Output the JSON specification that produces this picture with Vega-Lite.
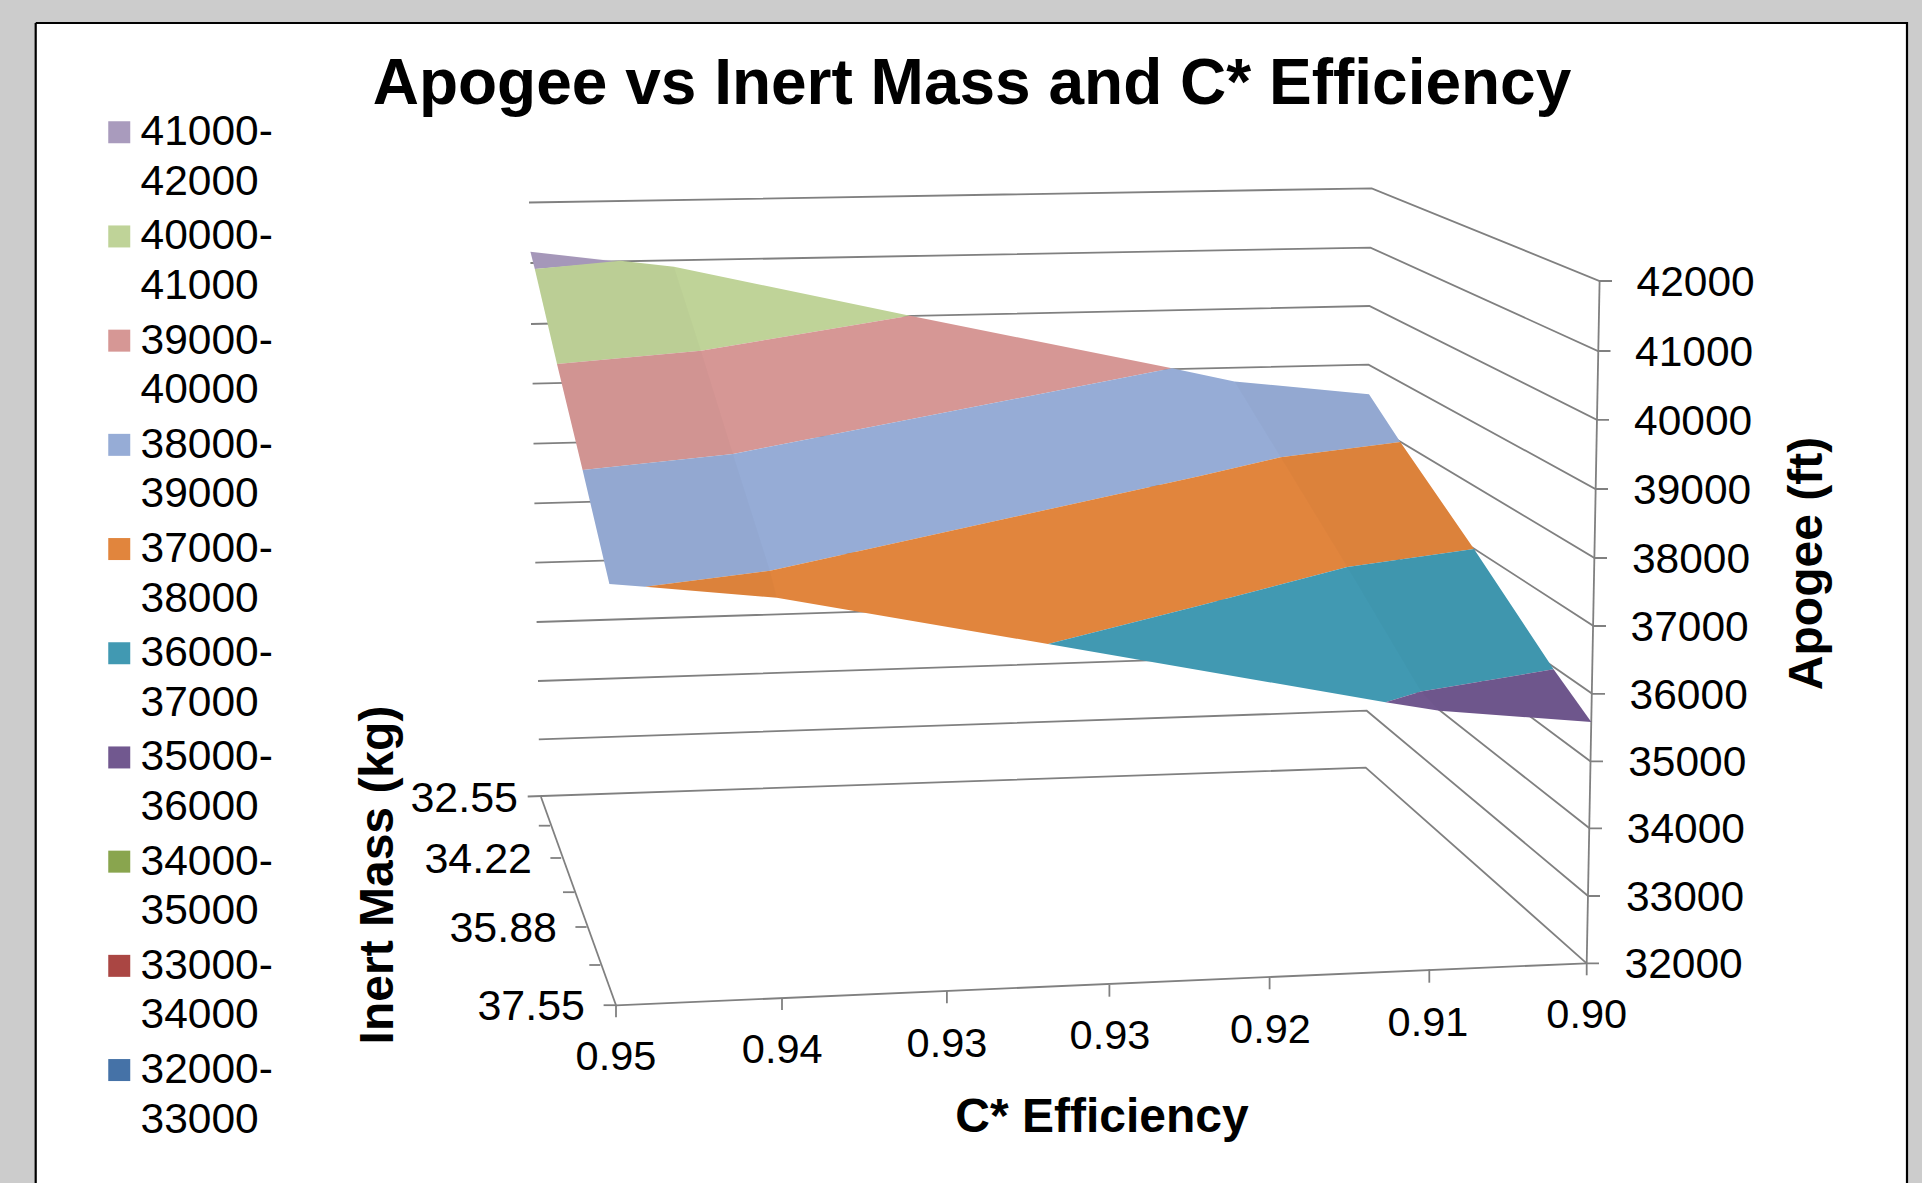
{
"$schema":"https://vega.github.io/schema/vega-lite/v6.json",
"width":1922,"height":1183,"padding":0,"autosize":"none",
"background":"#cccccc",
"title":{"text":"Apogee vs Inert Mass and C* Efficiency","font":"Liberation Sans","fontSize":64,"fontWeight":"bold","color":"#000000","anchor":"middle","baseline":"alphabetic","offset":0,"dx":11,"dy":168},
"config":{"view":{"stroke":null},"style":{"guide-label":{"lineHeight":49.5}}},
"datasets":{
"frame":[{"i":0,"h":35.7,"v":23},{"i":1,"h":1907,"v":23},{"i":2,"h":1907,"v":1195},{"i":3,"h":35.7,"v":1195},{"i":4,"h":35.7,"v":23}],
"lines":[
{"id":"g42","i":0,"h":529,"v":202.5},{"id":"g42","i":1,"h":1371.7,"v":188.3},{"id":"g42","i":2,"h":1599.6,"v":281},{"id":"g42","i":3,"h":1612,"v":281},
{"id":"g41","i":0,"h":530.4,"v":263},{"id":"g41","i":1,"h":1370.4,"v":247.6},{"id":"g41","i":2,"h":1598,"v":351},{"id":"g41","i":3,"h":1610.5,"v":351},
{"id":"g40","i":0,"h":531,"v":324},{"id":"g40","i":1,"h":1369.4,"v":306},{"id":"g40","i":2,"h":1596.9,"v":419.8},{"id":"g40","i":3,"h":1609,"v":419.8},
{"id":"g39","i":0,"h":532.6,"v":383.7},{"id":"g39","i":1,"h":1368.5,"v":364.7},{"id":"g39","i":2,"h":1595.5,"v":489},{"id":"g39","i":3,"h":1608,"v":489},
{"id":"g38","i":0,"h":533.5,"v":443.7},{"id":"g38","i":1,"h":1368.1,"v":422.5},{"id":"g38","i":2,"h":1594.6,"v":558},{"id":"g38","i":3,"h":1607,"v":558},
{"id":"g37","i":0,"h":534.4,"v":503.3},{"id":"g37","i":1,"h":1367.8,"v":480},{"id":"g37","i":2,"h":1593.6,"v":626},{"id":"g37","i":3,"h":1606,"v":626},
{"id":"g36","i":0,"h":535.3,"v":562.7},{"id":"g36","i":1,"h":1367.5,"v":538},{"id":"g36","i":2,"h":1592.3,"v":693.8},{"id":"g36","i":3,"h":1605,"v":693.8},
{"id":"g35","i":0,"h":536.6,"v":622},{"id":"g35","i":1,"h":1367.2,"v":595.5},{"id":"g35","i":2,"h":1590.4,"v":761.3},{"id":"g35","i":3,"h":1603,"v":761.3},
{"id":"g34","i":0,"h":538,"v":681},{"id":"g34","i":1,"h":1367,"v":653},{"id":"g34","i":2,"h":1589.5,"v":828.3},{"id":"g34","i":3,"h":1602,"v":828.3},
{"id":"g33","i":0,"h":538.8,"v":739.4},{"id":"g33","i":1,"h":1366.7,"v":710.7},{"id":"g33","i":2,"h":1588.1,"v":896},{"id":"g33","i":3,"h":1600,"v":896},
{"id":"g32","i":0,"h":527.7,"v":796.5},{"id":"g32","i":1,"h":1365.7,"v":767.7},{"id":"g32","i":2,"h":1586.7,"v":963.3},{"id":"g32","i":3,"h":1599,"v":963.3},
{"id":"front","i":0,"h":616,"v":1005.3},{"id":"front","i":1,"h":1586.7,"v":963.3},
{"id":"left","i":0,"h":541,"v":797},{"id":"left","i":1,"h":616,"v":1005.3},
{"id":"apogee","i":0,"h":1599.6,"v":281},{"id":"apogee","i":1,"h":1586.7,"v":963.3},
{"id":"m1","i":0,"h":538.8,"v":825.7},{"id":"m1","i":1,"h":550,"v":825.7},
{"id":"m2","i":0,"h":550.4,"v":858},{"id":"m2","i":1,"h":561.2,"v":858},
{"id":"m3","i":0,"h":563,"v":892.2},{"id":"m3","i":1,"h":574.6,"v":892.2},
{"id":"m4","i":0,"h":575.4,"v":927},{"id":"m4","i":1,"h":586.6,"v":927},
{"id":"m5","i":0,"h":589.3,"v":965},{"id":"m5","i":1,"h":600.4,"v":965},
{"id":"m6","i":0,"h":603.6,"v":1005.2},{"id":"m6","i":1,"h":616,"v":1005.2},
{"id":"e0","i":0,"h":616,"v":1005.3},{"id":"e0","i":1,"h":616,"v":1017.3},
{"id":"e1","i":0,"h":782,"v":998.3},{"id":"e1","i":1,"h":782,"v":1010},
{"id":"e2","i":0,"h":946.9,"v":991},{"id":"e2","i":1,"h":946.9,"v":1003.3},
{"id":"e3","i":0,"h":1109.4,"v":985},{"id":"e3","i":1,"h":1109.4,"v":996.7},
{"id":"e4","i":0,"h":1269.6,"v":976.7},{"id":"e4","i":1,"h":1269.6,"v":989.3},
{"id":"e5","i":0,"h":1429.3,"v":969.3},{"id":"e5","i":1,"h":1429.3,"v":982.7},
{"id":"e6","i":0,"h":1586.7,"v":963.3},{"id":"e6","i":1,"h":1586.7,"v":975.3}
],
"surface":[
{"band":"41000-42000","i":0,"h":530.4,"v":251.7},{"band":"41000-42000","i":1,"h":620.5,"v":262},{"band":"41000-42000","i":2,"h":534.8,"v":269},
{"band":"40000-41000","i":0,"h":534.8,"v":269},{"band":"40000-41000","i":1,"h":620.5,"v":260.7},{"band":"40000-41000","i":2,"h":674,"v":266.7},{"band":"40000-41000","i":3,"h":910,"v":315.7},{"band":"40000-41000","i":4,"h":701,"v":350.7},{"band":"40000-41000","i":5,"h":557,"v":364},
{"band":"39000-40000","i":0,"h":557,"v":364},{"band":"39000-40000","i":1,"h":701,"v":350.7},{"band":"39000-40000","i":2,"h":910,"v":315.7},{"band":"39000-40000","i":3,"h":1172,"v":368.3},{"band":"39000-40000","i":4,"h":763,"v":448},{"band":"39000-40000","i":5,"h":733,"v":454},{"band":"39000-40000","i":6,"h":582.6,"v":470},
{"band":"38000-39000","i":0,"h":582.6,"v":470},{"band":"38000-39000","i":1,"h":733,"v":454},{"band":"38000-39000","i":2,"h":763,"v":448},{"band":"38000-39000","i":3,"h":1172,"v":368.3},{"band":"38000-39000","i":4,"h":1234.5,"v":381.5},{"band":"38000-39000","i":5,"h":1369,"v":394.2},{"band":"38000-39000","i":6,"h":1400.3,"v":442},{"band":"38000-39000","i":7,"h":1280.6,"v":457.3},{"band":"38000-39000","i":8,"h":1200,"v":476},{"band":"38000-39000","i":9,"h":770,"v":570.7},{"band":"38000-39000","i":10,"h":645,"v":586.7},{"band":"38000-39000","i":11,"h":609.4,"v":584},
{"band":"37000-38000","i":0,"h":645,"v":586.7},{"band":"37000-38000","i":1,"h":770,"v":570.7},{"band":"37000-38000","i":2,"h":1200,"v":476},{"band":"37000-38000","i":3,"h":1280.6,"v":457.3},{"band":"37000-38000","i":4,"h":1400.3,"v":442},{"band":"37000-38000","i":5,"h":1474,"v":549},{"band":"37000-38000","i":6,"h":1347.3,"v":567},{"band":"37000-38000","i":7,"h":1200,"v":605.4},{"band":"37000-38000","i":8,"h":1048,"v":644},{"band":"37000-38000","i":9,"h":776.8,"v":597.7},
{"band":"36000-37000","i":0,"h":1048,"v":644},{"band":"36000-37000","i":1,"h":1200,"v":605.4},{"band":"36000-37000","i":2,"h":1347.3,"v":567},{"band":"36000-37000","i":3,"h":1474,"v":549},{"band":"36000-37000","i":4,"h":1553.6,"v":669.3},{"band":"36000-37000","i":5,"h":1421,"v":691.5},{"band":"36000-37000","i":6,"h":1385.5,"v":702.2},
{"band":"35000-36000","i":0,"h":1385.5,"v":702.2},{"band":"35000-36000","i":1,"h":1421,"v":691.5},{"band":"35000-36000","i":2,"h":1553.6,"v":669.3},{"band":"35000-36000","i":3,"h":1591.3,"v":722},{"band":"35000-36000","i":4,"h":1439.4,"v":710.7}
],
"strips":[
{"strip":"near","i":0,"h":530.4,"v":251.7},{"strip":"near","i":1,"h":620.5,"v":260.7},{"strip":"near","i":2,"h":674,"v":266.7},{"strip":"near","i":3,"h":701,"v":350.7},{"strip":"near","i":4,"h":733,"v":454},{"strip":"near","i":5,"h":770,"v":570.7},{"strip":"near","i":6,"h":776.8,"v":597.7},{"strip":"near","i":7,"h":645,"v":586.7},{"strip":"near","i":8,"h":609.4,"v":584},{"strip":"near","i":9,"h":582.6,"v":470},{"strip":"near","i":10,"h":557,"v":364},{"strip":"near","i":11,"h":534.8,"v":269},
{"strip":"far","i":0,"h":1234.5,"v":381.5},{"strip":"far","i":1,"h":1369,"v":394.2},{"strip":"far","i":2,"h":1400.3,"v":442},{"strip":"far","i":3,"h":1474,"v":549},{"strip":"far","i":4,"h":1553.6,"v":669.3},{"strip":"far","i":5,"h":1591.3,"v":722},{"strip":"far","i":6,"h":1439.4,"v":710.7},{"strip":"far","i":7,"h":1421,"v":691.5},{"strip":"far","i":8,"h":1347.3,"v":567},{"strip":"far","i":9,"h":1280.6,"v":457.3}
],
"apogeeLabels":[
{"label":"42000","h":1636.5,"v":283},{"label":"41000","h":1635,"v":353},{"label":"40000","h":1634,"v":422},{"label":"39000","h":1633,"v":491},{"label":"38000","h":1631.9,"v":560},{"label":"37000","h":1630.5,"v":628},{"label":"36000","h":1629.6,"v":696},{"label":"35000","h":1628.2,"v":763},{"label":"34000","h":1626.8,"v":830},{"label":"33000","h":1625.9,"v":898},{"label":"32000","h":1624.5,"v":965}
],
"effLabels":[
{"label":"0.95","h":616,"v":1058},{"label":"0.94","h":782.2,"v":1051},{"label":"0.93","h":947,"v":1044.5},{"label":"0.93","h":1110,"v":1037},{"label":"0.92","h":1270.5,"v":1030.7},{"label":"0.91","h":1428,"v":1023.7},{"label":"0.90","h":1586.7,"v":1016.3}
],
"massLabels":[
{"label":"32.55","h":518,"v":798.6},{"label":"34.22","h":532,"v":860.4},{"label":"35.88","h":557,"v":928.5},{"label":"37.55","h":585,"v":1007}
]
},
"encoding":{
"x":{"field":"h","type":"quantitative","scale":{"domain":[0,1922],"nice":false,"zero":false},"axis":null},
"y":{"field":"v","type":"quantitative","scale":{"domain":[1183,0],"nice":false,"zero":false},"axis":null}
},
"layer":[
{"data":{"name":"frame"},"mark":{"type":"line","filled":true,"fill":"#ffffff","stroke":"#000000","strokeWidth":2.2,"clip":false},"encoding":{"order":{"field":"i","type":"quantitative"}}},
{"data":{"name":"lines"},"mark":{"type":"line","stroke":"#808080","strokeWidth":1.8},"encoding":{"detail":{"field":"id"},"order":{"field":"i","type":"quantitative"}}},
{"data":{"name":"surface"},"mark":{"type":"line","filled":true,"strokeWidth":0},"encoding":{"color":{"field":"band","type":"nominal","scale":{"domain":["41000-42000","40000-41000","39000-40000","38000-39000","37000-38000","36000-37000","35000-36000","34000-35000","33000-34000","32000-33000"],"range":["#A99BBD","#BFD398","#D69795","#96ACD6","#E1853D","#4199B2","#71588F","#89A54E","#AA4643","#4572A7"]},
"legend":{"orient":"none","legendX":98,"legendY":111,"title":null,"symbolType":"square","symbolSize":484,"symbolStrokeWidth":0,"symbolOffset":0,"labelOffset":0,"labelFont":"Liberation Sans","labelFontSize":42.5,"labelColor":"#000000","labelLimit":300,"rowPadding":11.2,"padding":0,"labelExpr":"[slice(datum.label,0,6),slice(datum.label,6)]"}},
"order":{"field":"i","type":"quantitative"}}},
{"data":{"name":"strips"},"mark":{"type":"line","filled":true,"fill":"#000000","fillOpacity":0.02,"strokeWidth":0},"encoding":{"detail":{"field":"strip"},"order":{"field":"i","type":"quantitative"}}},
{"data":{"name":"apogeeLabels"},"mark":{"type":"text","align":"left","baseline":"middle","font":"Liberation Sans","fontSize":42.5,"color":"#000000"},"encoding":{"text":{"field":"label"}}},
{"data":{"name":"effLabels"},"mark":{"type":"text","align":"center","baseline":"middle","font":"Liberation Sans","fontSize":41.5,"color":"#000000"},"encoding":{"text":{"field":"label"}}},
{"data":{"name":"massLabels"},"mark":{"type":"text","align":"right","baseline":"middle","font":"Liberation Sans","fontSize":43,"color":"#000000"},"encoding":{"text":{"field":"label"}}},
{"data":{"values":[{"label":"C* Efficiency","h":1102,"v":1132}]},"mark":{"type":"text","align":"center","baseline":"alphabetic","font":"Liberation Sans","fontSize":48,"fontWeight":"bold","color":"#000000"},"encoding":{"text":{"field":"label"}}},
{"data":{"values":[{"label":"Inert Mass (kg)","h":393,"v":875},{"label":"Apogee (ft)","h":1821.6,"v":563.5}]},"mark":{"type":"text","align":"center","baseline":"alphabetic","angle":270,"font":"Liberation Sans","fontSize":48,"fontWeight":"bold","color":"#000000"},"encoding":{"text":{"field":"label"}}}
]
}
